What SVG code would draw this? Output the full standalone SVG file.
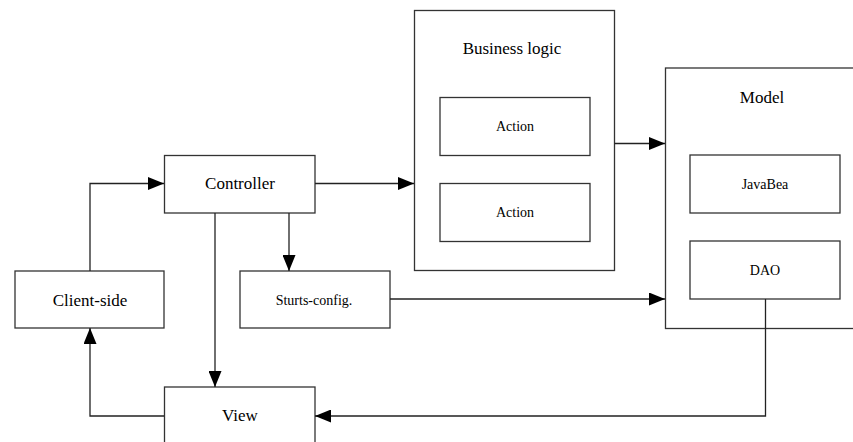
<svg xmlns="http://www.w3.org/2000/svg" width="853" height="442" viewBox="0 0 853 442">
<style>
.box{fill:#fff;stroke:#333;stroke-width:1.3}
.big{font-family:"Liberation Serif","Times New Roman",serif;font-size:17px;fill:#000;text-anchor:middle}
.small{font-family:"Liberation Serif","Times New Roman",serif;font-size:14px;fill:#000;text-anchor:middle}
.conn{fill:none;stroke:#222;stroke-width:1.3}
</style>
<defs>
<marker id="arr" markerUnits="userSpaceOnUse" markerWidth="17" markerHeight="13" refX="16" refY="6.5" orient="auto">
<path d="M0,0 L16,6.5 L0,13 Z" fill="#000"/>
</marker>
</defs>
<rect width="853" height="442" fill="#fff"/>
<g id="business-logic">
<rect class="box" x="414.5" y="10.5" width="200" height="260"/>
<text class="big" x="512" y="54">Business logic</text>
</g>
<g id="action1">
<rect class="box" x="440" y="97.5" width="150" height="58"/>
<text class="small" x="515" y="131">Action</text>
</g>
<g id="action2">
<rect class="box" x="440" y="183.5" width="150" height="58"/>
<text class="small" x="515" y="217">Action</text>
</g>
<g id="model">
<rect class="box" x="665.5" y="68" width="200" height="260.5"/>
<text class="big" x="762" y="103">Model</text>
</g>
<g id="javabea">
<rect class="box" x="690" y="155" width="150" height="58"/>
<text class="small" x="765" y="189">JavaBea</text>
</g>
<g id="dao">
<rect class="box" x="690" y="241" width="150" height="58"/>
<text class="small" x="765" y="275">DAO</text>
</g>
<g id="controller">
<rect class="box" x="164.5" y="155.5" width="150.5" height="57.5"/>
<text class="big" x="240" y="189">Controller</text>
</g>
<g id="client-side">
<rect class="box" x="15" y="271" width="149" height="57"/>
<text class="big" x="90" y="306">Client-side</text>
</g>
<g id="sturts-config">
<rect class="box" x="240" y="271" width="150" height="57"/>
<text class="small" x="314" y="305">Sturts-config.</text>
</g>
<g id="view">
<rect class="box" x="164.5" y="387" width="150.5" height="70"/>
<text class="big" x="240" y="421">View</text>
</g>
<g id="connectors">
<path class="conn" d="M90,271 V183.5 H164" marker-end="url(#arr)"/>
<path class="conn" d="M315,183.5 H414" marker-end="url(#arr)"/>
<path class="conn" d="M289,213 V271" marker-end="url(#arr)"/>
<path class="conn" d="M215,213 V387" marker-end="url(#arr)"/>
<path class="conn" d="M614.5,143.5 H665" marker-end="url(#arr)"/>
<path class="conn" d="M390,299 H665" marker-end="url(#arr)"/>
<path class="conn" d="M765.5,299 V416 H315" marker-end="url(#arr)"/>
<path class="conn" d="M164,416 H90 V328" marker-end="url(#arr)"/>
</g>
</svg>
